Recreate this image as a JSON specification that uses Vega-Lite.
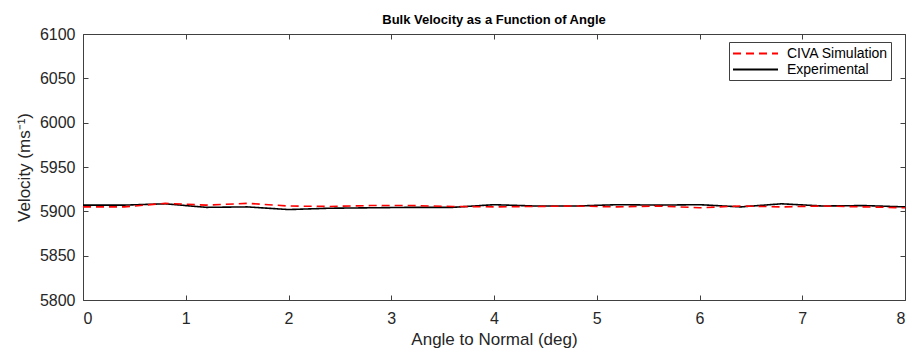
{
  "$schema": "https://vega.github.io/schema/vega-lite/v6.json",
  "autosize": "none",
  "width": 822,
  "height": 266,
  "padding": {"left": 83, "top": 34, "right": 3, "bottom": 49},
  "background": "white",
  "config": {
    "font": "Liberation Sans",
    "view": {"stroke": null},
    "axis": {"grid": false, "domainColor": "#404040", "tickColor": "#404040", "labelColor": "#262626", "titleColor": "#262626", "labelFont": "Liberation Sans", "titleFont": "Liberation Sans", "labelFontSize": 16, "titleFontSize": 17, "titleFontWeight": "normal", "tickSize": -5, "domainWidth": 1, "tickWidth": 1}
  },
  "title": {"text": "Bulk Velocity as a Function of Angle", "fontSize": 13, "fontWeight": "bold", "font": "Liberation Sans", "color": "#000000", "offset": -1, "anchor": "middle"},
  "data": {"values": [
    {"deg": 0.0, "v": 5907, "s": "Experimental"},
    {"deg": 0.4, "v": 5907, "s": "Experimental"},
    {"deg": 0.8, "v": 5908.5, "s": "Experimental"},
    {"deg": 1.2, "v": 5904.5, "s": "Experimental"},
    {"deg": 1.6, "v": 5905, "s": "Experimental"},
    {"deg": 2.0, "v": 5902, "s": "Experimental"},
    {"deg": 2.4, "v": 5903.5, "s": "Experimental"},
    {"deg": 2.8, "v": 5904, "s": "Experimental"},
    {"deg": 3.2, "v": 5904.5, "s": "Experimental"},
    {"deg": 3.6, "v": 5904.5, "s": "Experimental"},
    {"deg": 4.0, "v": 5907.5, "s": "Experimental"},
    {"deg": 4.4, "v": 5906, "s": "Experimental"},
    {"deg": 4.8, "v": 5906, "s": "Experimental"},
    {"deg": 5.2, "v": 5907.5, "s": "Experimental"},
    {"deg": 5.6, "v": 5907, "s": "Experimental"},
    {"deg": 6.0, "v": 5907.5, "s": "Experimental"},
    {"deg": 6.4, "v": 5905, "s": "Experimental"},
    {"deg": 6.8, "v": 5908.5, "s": "Experimental"},
    {"deg": 7.2, "v": 5906, "s": "Experimental"},
    {"deg": 7.6, "v": 5906.5, "s": "Experimental"},
    {"deg": 8.0, "v": 5905, "s": "Experimental"},
    {"deg": 0.0, "v": 5905, "s": "CIVA Simulation"},
    {"deg": 0.4, "v": 5905, "s": "CIVA Simulation"},
    {"deg": 0.8, "v": 5909, "s": "CIVA Simulation"},
    {"deg": 1.2, "v": 5907, "s": "CIVA Simulation"},
    {"deg": 1.6, "v": 5909, "s": "CIVA Simulation"},
    {"deg": 2.0, "v": 5906, "s": "CIVA Simulation"},
    {"deg": 2.4, "v": 5905.5, "s": "CIVA Simulation"},
    {"deg": 2.8, "v": 5906.5, "s": "CIVA Simulation"},
    {"deg": 3.2, "v": 5906.5, "s": "CIVA Simulation"},
    {"deg": 3.6, "v": 5905.5, "s": "CIVA Simulation"},
    {"deg": 4.0, "v": 5905, "s": "CIVA Simulation"},
    {"deg": 4.4, "v": 5905.5, "s": "CIVA Simulation"},
    {"deg": 4.8, "v": 5906, "s": "CIVA Simulation"},
    {"deg": 5.2, "v": 5905, "s": "CIVA Simulation"},
    {"deg": 5.6, "v": 5906, "s": "CIVA Simulation"},
    {"deg": 6.0, "v": 5904, "s": "CIVA Simulation"},
    {"deg": 6.4, "v": 5906, "s": "CIVA Simulation"},
    {"deg": 6.8, "v": 5905, "s": "CIVA Simulation"},
    {"deg": 7.2, "v": 5906, "s": "CIVA Simulation"},
    {"deg": 7.6, "v": 5905, "s": "CIVA Simulation"},
    {"deg": 8.0, "v": 5904, "s": "CIVA Simulation"}
  ]},
  "layer": [
    {
      "mark": {"type": "line", "strokeWidth": 1.6},
      "encoding": {
        "x": {"field": "deg", "type": "quantitative", "scale": {"domain": [0, 8], "nice": false, "zero": false}, "axis": {"orient": "bottom", "title": "Angle to Normal (deg)", "values": [0,1,2,3,4,5,6,7,8], "labelPadding": 15, "titlePadding": 5}},
        "y": {"field": "v", "type": "quantitative", "scale": {"domain": [5800, 6100], "nice": false, "zero": false}, "axis": {"orient": "left", "title": "Velocity (ms⁻¹)", "format": "d", "values": [5800,5850,5900,5950,6000,6050,6100], "labelPadding": 13, "titlePadding": 6}},
        "color": {"field": "s", "type": "nominal", "scale": {"domain": ["CIVA Simulation", "Experimental"], "range": ["#ff0000", "#000000"]}, "legend": {"title": null, "orient": "none", "legendX": 646, "legendY": 8, "direction": "vertical", "symbolType": "M-1,0H5", "symbolSize": 225, "symbolStrokeWidth": 1.8, "labelFontSize": 14, "labelFont": "Liberation Sans", "labelColor": "#000000", "strokeColor": "#404040", "fillColor": "white", "padding": 3, "rowPadding": 0, "labelOffset": 38}},
        "strokeDash": {"field": "s", "type": "nominal", "scale": {"domain": ["CIVA Simulation", "Experimental"], "range": [[8, 5], [1, 0]]}, "legend": {"title": null, "orient": "none", "legendX": 646, "legendY": 8, "direction": "vertical", "symbolType": "M-1,0H5", "symbolSize": 225, "symbolStrokeWidth": 1.8, "labelFontSize": 14, "labelFont": "Liberation Sans", "labelColor": "#000000", "strokeColor": "#404040", "fillColor": "white", "padding": 3, "rowPadding": 0, "labelOffset": 38}}
      }
    },
    {
      "mark": {"type": "line", "strokeOpacity": 0},
      "encoding": {
        "x": {"field": "deg", "type": "quantitative", "axis": {"orient": "top", "title": null, "labels": false, "values": [0,1,2,3,4,5,6,7,8]}},
        "y": {"field": "v", "type": "quantitative", "axis": {"orient": "right", "title": null, "labels": false, "values": [5800,5850,5900,5950,6000,6050,6100]}},
        "detail": {"field": "s"}
      }
    }
  ],
  "resolve": {"axis": {"x": "independent", "y": "independent"}}
}
